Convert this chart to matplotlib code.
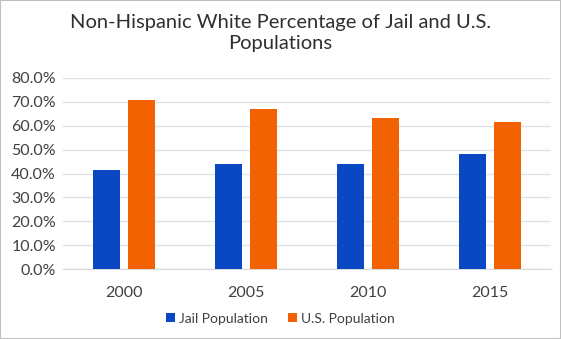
import matplotlib
matplotlib.use('Agg')
import matplotlib.pyplot as plt
import numpy as np
from matplotlib.ticker import PercentFormatter

plt.rcParams['font.family'] = ['Lato', 'DejaVu Sans']

years = ['2000', '2005', '2010', '2015']
jail = [41.7, 44.2, 44.2, 48.1]
us_pop = [70.7, 67.1, 63.3, 61.5]

fig = plt.figure(figsize=(5.61, 3.39), dpi=100)
ax = fig.add_axes([0.112, 0.206, 0.87, 0.564])

x = np.arange(len(years))
w = 0.22
ax.bar(x - w / 2 - 0.033, jail, w, color='#0a47c2', label='Jail Population', zorder=3)
ax.bar(x + w / 2 + 0.033, us_pop, w, color='#f26200', label='U.S. Population', zorder=3)

ax.set_xlim(-0.5, 3.5)
ax.set_ylim(0, 80)
ax.set_yticks(np.arange(0, 81, 10))
ax.yaxis.set_major_formatter(PercentFormatter(decimals=1))
ax.set_xticks(x)
ax.set_xticklabels(years)
ax.grid(axis='y', color='#dfe3e8', linewidth=1, zorder=0)
for s in ['top', 'right', 'left']:
    ax.spines[s].set_visible(False)
ax.spines['bottom'].set_color('#d9d9d9')
ax.tick_params(length=0, labelsize=11.5, colors='#404040')
ax.tick_params(axis='x', pad=12)
ax.tick_params(axis='y', pad=5)

fig.suptitle('Non-Hispanic White Percentage of Jail and U.S.\nPopulations',
             fontsize=14.5, color='#303030', y=0.96, linespacing=1.3)
fig.legend(loc='lower center', bbox_to_anchor=(0.5, 0.005), ncol=2, frameon=False,
           fontsize=10, handlelength=0.6, handleheight=0.6, columnspacing=1.5,
           handletextpad=0.3, labelcolor='#404040')

fig.patches.append(plt.Rectangle((0, 0), 1, 1, transform=fig.transFigure,
                                 fill=False, edgecolor='#bfbfbf', linewidth=1.5))
fig.savefig('out.png', dpi=100)
